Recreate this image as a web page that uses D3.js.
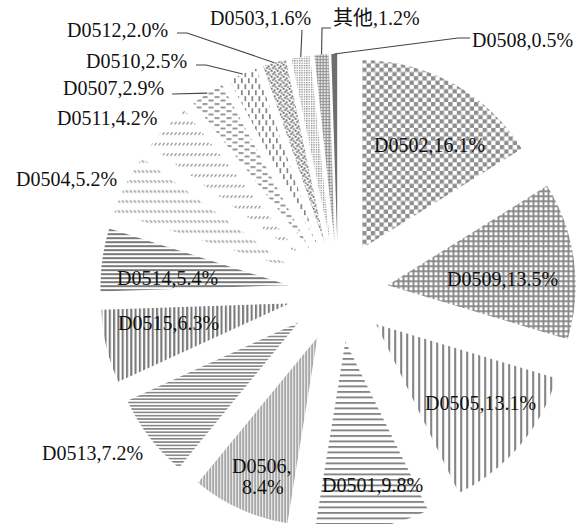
<!DOCTYPE html>
<html>
<head>
<meta charset="utf-8">
<script src="https://cdn.jsdelivr.net/npm/d3@7/dist/d3.min.js"></script>
<style>
  html, body { margin: 0; padding: 0; background: #fff; }
  svg { display: block; }
  .lbl { font-family: "Liberation Serif", "Times New Roman", "Noto Sans CJK SC", serif; font-size: 20px; fill: #111; }
  .leader { fill: none; stroke: #444; stroke-width: 1.1; }
</style>
</head>
<body>
<svg id="chart" width="588" height="524"></svg>
<script>
// Share of each category, clockwise from 12 o'clock
const categories = ["D0502", "D0509", "D0505", "D0501", "D0506", "D0513", "D0515", "D0514",
                    "D0504", "D0511", "D0507", "D0510", "D0512", "D0503", "其他", "D0508"];
const shares = [16.1, 13.5, 13.1, 9.8, 8.4, 7.2, 6.3, 5.4, 5.2, 4.2, 2.9, 2.5, 2.0, 1.6, 1.2, 0.5];

// Fill style for each slice (pattern id)
const fills = {
  "D0502": "checker", "D0509": "grid", "D0505": "vWide", "D0501": "hWide",
  "D0506": "vDense", "D0513": "hDense", "D0515": "vMid", "D0514": "hMid",
  "D0504": "dashBack", "D0511": "dashFwd", "D0507": "dashH", "D0510": "dashV",
  "D0512": "confetti", "D0503": "dotsFine", "其他": "dotsGrid", "D0508": "solid"
};

// Label placement (left x, baseline y) and elbow points of leader lines
const labelLayout = {
  "D0502": { x: 374, y: 152 },
  "D0509": { x: 447, y: 286 },
  "D0505": { x: 425, y: 410 },
  "D0501": { x: 322, y: 492 },
  "D0506": { x: 232, y: 473, lines: ["D0506,", "8.4%"], dx2: 10, lh: 21 },
  "D0513": { x: 42,  y: 460 },
  "D0515": { x: 118, y: 330 },
  "D0514": { x: 117, y: 285 },
  "D0504": { x: 16,  y: 186 },
  "D0511": { x: 57,  y: 125 },
  "D0507": { x: 63,  y: 95,  leader: [[172, 94]] },
  "D0510": { x: 86,  y: 68,  leader: [[196, 65], [206, 65]] },
  "D0512": { x: 67,  y: 37,  leader: [[177, 33], [187, 33]] },
  "D0503": { x: 210, y: 25,  leader: [[302, 30]] },
  "其他":   { x: 333, y: 25,  leader: [[331, 28], [322, 28]] },
  "D0508": { x: 472, y: 47,  leader: [[470, 38], [458, 38]] }
};

const cx = 338, cy = 292, R = 188, explode = 50;
const svg = d3.select("#chart");
const defs = svg.append("defs");
const ink = "#858585";

function pat(id, w, h) {
  return defs.append("pattern").attr("id", id).attr("patternUnits", "userSpaceOnUse")
    .attr("width", w).attr("height", h);
}
// checkerboard
{ const p = pat("checker", 8.6, 8.6);
  p.append("rect").attr("width", 4.3).attr("height", 4.3).attr("fill", "#8e8e8e");
  p.append("rect").attr("x", 4.3).attr("y", 4.3).attr("width", 4.3).attr("height", 4.3).attr("fill", "#8e8e8e"); }
// square grid
{ const p = pat("grid", 5, 5);
  p.append("rect").attr("width", 5).attr("height", 1.8).attr("fill", ink);
  p.append("rect").attr("width", 1.8).attr("height", 5).attr("fill", ink); }
function vLines(id, pitch, w, col) {
  const p = pat(id, pitch, 10);
  p.append("rect").attr("width", w).attr("height", 10).attr("fill", col || ink);
}
function hLines(id, pitch, w, col) {
  const p = pat(id, 10, pitch);
  p.append("rect").attr("width", 10).attr("height", w).attr("fill", col || ink);
}
vLines("vWide", 6, 2.1);
hLines("hWide", 5.5, 1.9);
vLines("vDense", 3, 1.5);
hLines("hDense", 3.3, 1.6);
vLines("vMid", 4.3, 2.1, "#7a7a7a");
hLines("hMid", 4, 2.0, "#7a7a7a");
// short diagonal dashes
{ const p = pat("dashBack", 4, 10);
  p.append("line").attr("x1", 0.5).attr("y1", 1).attr("x2", 2.6).attr("y2", 3.4)
    .attr("stroke", "#858585").attr("stroke-width", 1.2); }
{ const p = pat("dashFwd", 4, 10.5);
  p.append("line").attr("x1", 0.5).attr("y1", 3.4).attr("x2", 2.6).attr("y2", 1)
    .attr("stroke", "#858585").attr("stroke-width", 1.2); }
// horizontal dashes in staggered rows
{ const p = pat("dashH", 12, 7);
  p.append("rect").attr("x", 0).attr("y", 0).attr("width", 5).attr("height", 1.7).attr("fill", "#858585");
  p.append("rect").attr("x", 6).attr("y", 3.5).attr("width", 5).attr("height", 1.7).attr("fill", "#858585"); }
// vertical dashes in staggered columns
{ const p = pat("dashV", 7, 12);
  p.append("rect").attr("x", 0).attr("y", 0).attr("width", 1.7).attr("height", 5).attr("fill", "#858585");
  p.append("rect").attr("x", 3.5).attr("y", 6).attr("width", 1.7).attr("height", 5).attr("fill", "#858585"); }
// confetti squares
{ const p = pat("confetti", 6, 6);
  [[0, 0], [3, 1.5], [1.5, 3.2], [4.4, 4.4]].forEach(([x, y]) =>
    p.append("rect").attr("x", x).attr("y", y).attr("width", 1.9).attr("height", 1.9).attr("fill", "#6a6a6a")); }
// fine dots
{ const p = pat("dotsFine", 2.4, 2.4);
  p.append("rect").attr("width", 1.3).attr("height", 1.3).attr("fill", "#888"); }
// dotted grid
{ const p = pat("dotsGrid", 3, 3);
  p.append("rect").attr("width", 3).attr("height", 1).attr("fill", "#999");
  p.append("rect").attr("width", 1.4).attr("height", 3).attr("fill", "#888"); }

const pie = d3.pie().sort(null).value(d => d.value).startAngle(0).endAngle(2 * Math.PI);
const arcs = pie(categories.map((c, i) => ({ name: c, value: shares[i] })));
const arc = d3.arc().innerRadius(0).outerRadius(R);

// offset of each slice along its bisector
function shift(a) {
  const mid = (a.startAngle + a.endAngle) / 2;
  return [cx + explode * Math.sin(mid), cy - explode * Math.cos(mid)];
}

svg.append("g").selectAll("path").data(arcs).join("path")
  .attr("transform", d => `translate(${shift(d)})`)
  .attr("d", arc)
  .attr("fill", d => fills[d.data.name] === "solid" ? "#6e6e6e" : `url(#${fills[d.data.name]})`);

// leader lines: from the label elbow to the outer arc at the slice bisector
const line = d3.line();
arcs.forEach(a => {
  const L = labelLayout[a.data.name];
  if (!L.leader) return;
  const [sx, sy] = shift(a);
  const mid = (a.startAngle + a.endAngle) / 2;
  const end = [sx + R * Math.sin(mid), sy - R * Math.cos(mid)];
  svg.append("path").attr("class", "leader").attr("d", line([...L.leader, end]));
});

// labels
arcs.forEach(a => {
  const L = labelLayout[a.data.name];
  const lines = L.lines || [`${a.data.name},${a.data.value.toFixed(1)}%`];
  lines.forEach((s, i) => {
    svg.append("text").attr("class", "lbl")
      .attr("x", L.x + (i ? (L.dx2 || 0) : 0))
      .attr("y", L.y + i * (L.lh || 0))
      .text(s);
  });
});
</script>
</body>
</html>
